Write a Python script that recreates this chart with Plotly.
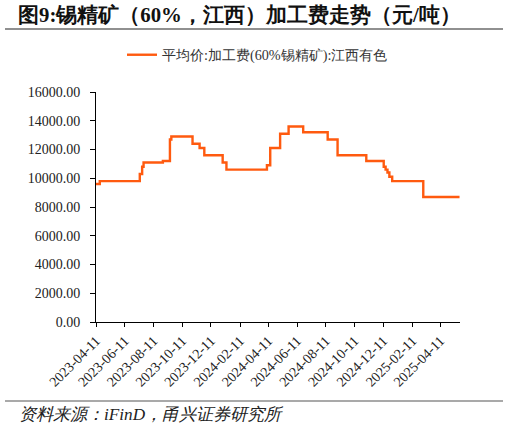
import plotly.graph_objects as go

dates = ["2023-04-11", "2023-04-19", "2023-07-13", "2023-07-18", "2023-07-21",
         "2023-08-31", "2023-09-15", "2023-09-18", "2023-11-02", "2023-11-17",
         "2023-11-27", "2024-01-05", "2024-01-13", "2024-04-08", "2024-04-15",
         "2024-05-06", "2024-05-24", "2024-06-24", "2024-08-15", "2024-09-05",
         "2024-11-05", "2024-12-12", "2024-12-16", "2024-12-20", "2024-12-24",
         "2024-12-30", "2025-03-06", "2025-05-22"]
values = [9600, 9800, 10300, 10800, 11100,
          11200, 12700, 12900, 12400, 12100,
          11600, 11100, 10600, 10900, 12100,
          13100, 13600, 13200, 12700, 11600,
          11200, 10800, 10600, 10400, 10100,
          9800, 8700, 8700]

tick_dates = ["2023-04-11", "2023-06-11", "2023-08-11", "2023-10-11", "2023-12-11",
              "2024-02-11", "2024-04-11", "2024-06-11", "2024-08-11", "2024-10-11",
              "2024-12-11", "2025-02-11", "2025-04-11"]

series_name = "平均价:加工费(60%锡精矿):江西有色"
title_text = "图9:锡精矿（60%，江西）加工费走势（元/吨）"
source_text = "资料来源：iFinD，甬兴证券研究所"

serif = "Times New Roman, Liberation Serif, DejaVu Serif, serif"

W, H = 509, 429
L, R, T, B = 96, 49, 92, 107
pw = W - L - R
ph = H - T - B


def px_x(px):
    return (px - L) / pw


def px_y(py):
    return (H - B - py) / ph


fig = go.Figure()
fig.add_trace(go.Scatter(
    x=dates, y=values, mode="lines", name=series_name,
    line=dict(color="#FF5A0F", width=2.4, shape="hv"),
))

fig.update_layout(
    width=W, height=H, autosize=False,
    margin=dict(l=L, r=R, t=T, b=B),
    paper_bgcolor="white", plot_bgcolor="white",
    showlegend=True,
    legend=dict(orientation="h", xref="container", yref="container",
                x=122 / W, xanchor="left",
                y=1 - 55 / H, yanchor="middle",
                font=dict(family=serif, size=14.2, color="#333333"),
                bgcolor="rgba(0,0,0,0)"),
    font=dict(family=serif, color="#222222"),
)

fig.update_xaxes(
    type="date", range=["2023-04-11", "2025-05-23"],
    tickvals=tick_dates, ticktext=tick_dates, tickangle=-45,
    showgrid=False, zeroline=False, automargin=False,
    showline=True, linecolor="black", linewidth=1,
    ticks="outside", ticklen=4, tickcolor="black",
    tickfont=dict(family=serif, size=14, color="#222222"),
)
fig.update_yaxes(
    range=[0, 16000], dtick=2000, tickformat=".2f",
    showgrid=False, zeroline=False, automargin=False,
    showline=True, linecolor="black", linewidth=1,
    ticks="outside", ticklen=5, tickcolor="black",
    ticklabelstandoff=7,
    tickfont=dict(family=serif, size=14, color="#222222"),
)

fig.add_annotation(
    text="<b>" + title_text + "</b>", xref="paper", yref="paper",
    x=px_x(16), y=px_y(15), xanchor="left", yanchor="middle",
    font=dict(family=serif, size=20.8, color="#111111"), showarrow=False,
)
fig.add_annotation(
    text="<i>" + source_text + "</i>", xref="paper", yref="paper",
    x=px_x(17), y=px_y(414), xanchor="left", yanchor="middle",
    font=dict(family=serif, size=17.2, color="#222222"), showarrow=False,
)
fig.add_shape(type="line", xref="paper", yref="paper",
              x0=px_x(5), x1=px_x(503), y0=px_y(29), y1=px_y(29),
              line=dict(color="#222222", width=1.2))
fig.add_shape(type="line", xref="paper", yref="paper",
              x0=px_x(5), x1=px_x(503), y0=px_y(401), y1=px_y(401),
              line=dict(color="#555555", width=1.2))

fig.write_html("out.html", post_script="document.body.style.margin='0px';",
               config={"displayModeBar": False})
